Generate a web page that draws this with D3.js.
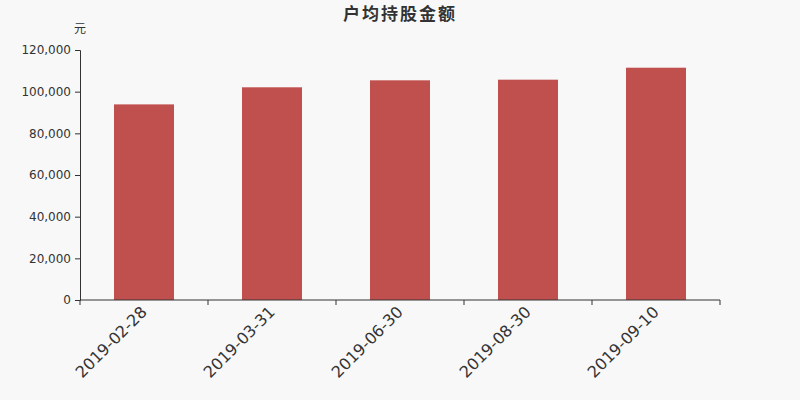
<!DOCTYPE html>
<html>
<head>
<meta charset="utf-8">
<script src="https://cdn.jsdelivr.net/npm/d3@7"></script>
<style>
  body { margin: 0; background: #f8f8f8; }
  text { font-family: "DejaVu Sans", "Noto Sans CJK SC", sans-serif; }
</style>
</head>
<body>
<div id="chart"></div>
<script>
const dates = ["2019-02-28", "2019-03-31", "2019-06-30", "2019-08-30", "2019-09-10"];
const amounts = [93900, 102100, 105450, 105750, 111500];
const yTicks = [0, 20000, 40000, 60000, 80000, 100000, 120000];

const width = 800, height = 400;
const margin = { top: 50, right: 80, bottom: 100, left: 80 };

const svg = d3.select("#chart").append("svg")
    .attr("width", width)
    .attr("height", height)
    .style("background", "#f8f8f8");

const x = d3.scaleBand()
    .domain(dates)
    .range([margin.left, width - margin.right]);

const y = d3.scaleLinear()
    .domain([0, 120000])
    .range([height - margin.bottom, margin.top]);

// bars
svg.selectAll(".bar")
    .data(dates)
    .enter()
    .append("rect")
    .attr("class", "bar")
    .attr("x", d => x(d) + (x.bandwidth() - 60) / 2)
    .attr("y", (d, i) => y(amounts[i]))
    .attr("width", 60)
    .attr("height", (d, i) => y(0) - y(amounts[i]))
    .attr("fill", "#c0504e");

// y axis
const yAxis = svg.append("g")
    .attr("transform", `translate(${margin.left},0)`)
    .call(d3.axisLeft(y).tickValues(yTicks).tickFormat(d3.format(",")).tickSize(5).tickPadding(4));
yAxis.selectAll("text").attr("font-size", 12).attr("fill", "#333");
yAxis.selectAll("line, path").attr("stroke", "#333");

// x axis, ticks at band edges
const xAxis = svg.append("g")
    .attr("transform", `translate(0,${height - margin.bottom})`)
    .call(d3.axisBottom(x).tickSize(0).tickPadding(8));
xAxis.select("path").attr("stroke", "#333").attr("d", `M${margin.left},0H${width - margin.right}`);
xAxis.selectAll(".tick text")
    .attr("font-size", 16)
    .attr("fill", "#333")
    .attr("text-anchor", "end")
    .attr("x", 0).attr("y", 0).attr("dy", 0)
    .attr("transform", "translate(4,13) rotate(-45)");

const edges = dates.map(d => x(d)).concat([x(dates[dates.length - 1]) + x.bandwidth()]);
xAxis.selectAll(".edge")
    .data(edges)
    .enter()
    .append("line")
    .attr("x1", d => d).attr("x2", d => d)
    .attr("y1", 0).attr("y2", 5)
    .attr("stroke", "#333");

// title and unit
svg.append("text")
    .attr("x", width / 2)
    .attr("y", 20)
    .attr("text-anchor", "middle")
    .attr("font-size", 17)
    .attr("font-weight", "bold")
    .attr("letter-spacing", 2)
    .attr("fill", "#333")
    .text("户均持股金额");

svg.append("text")
    .attr("x", 80)
    .attr("y", 33)
    .attr("text-anchor", "middle")
    .attr("font-size", 12)
    .attr("fill", "#333")
    .text("元");
</script>
</body>
</html>
